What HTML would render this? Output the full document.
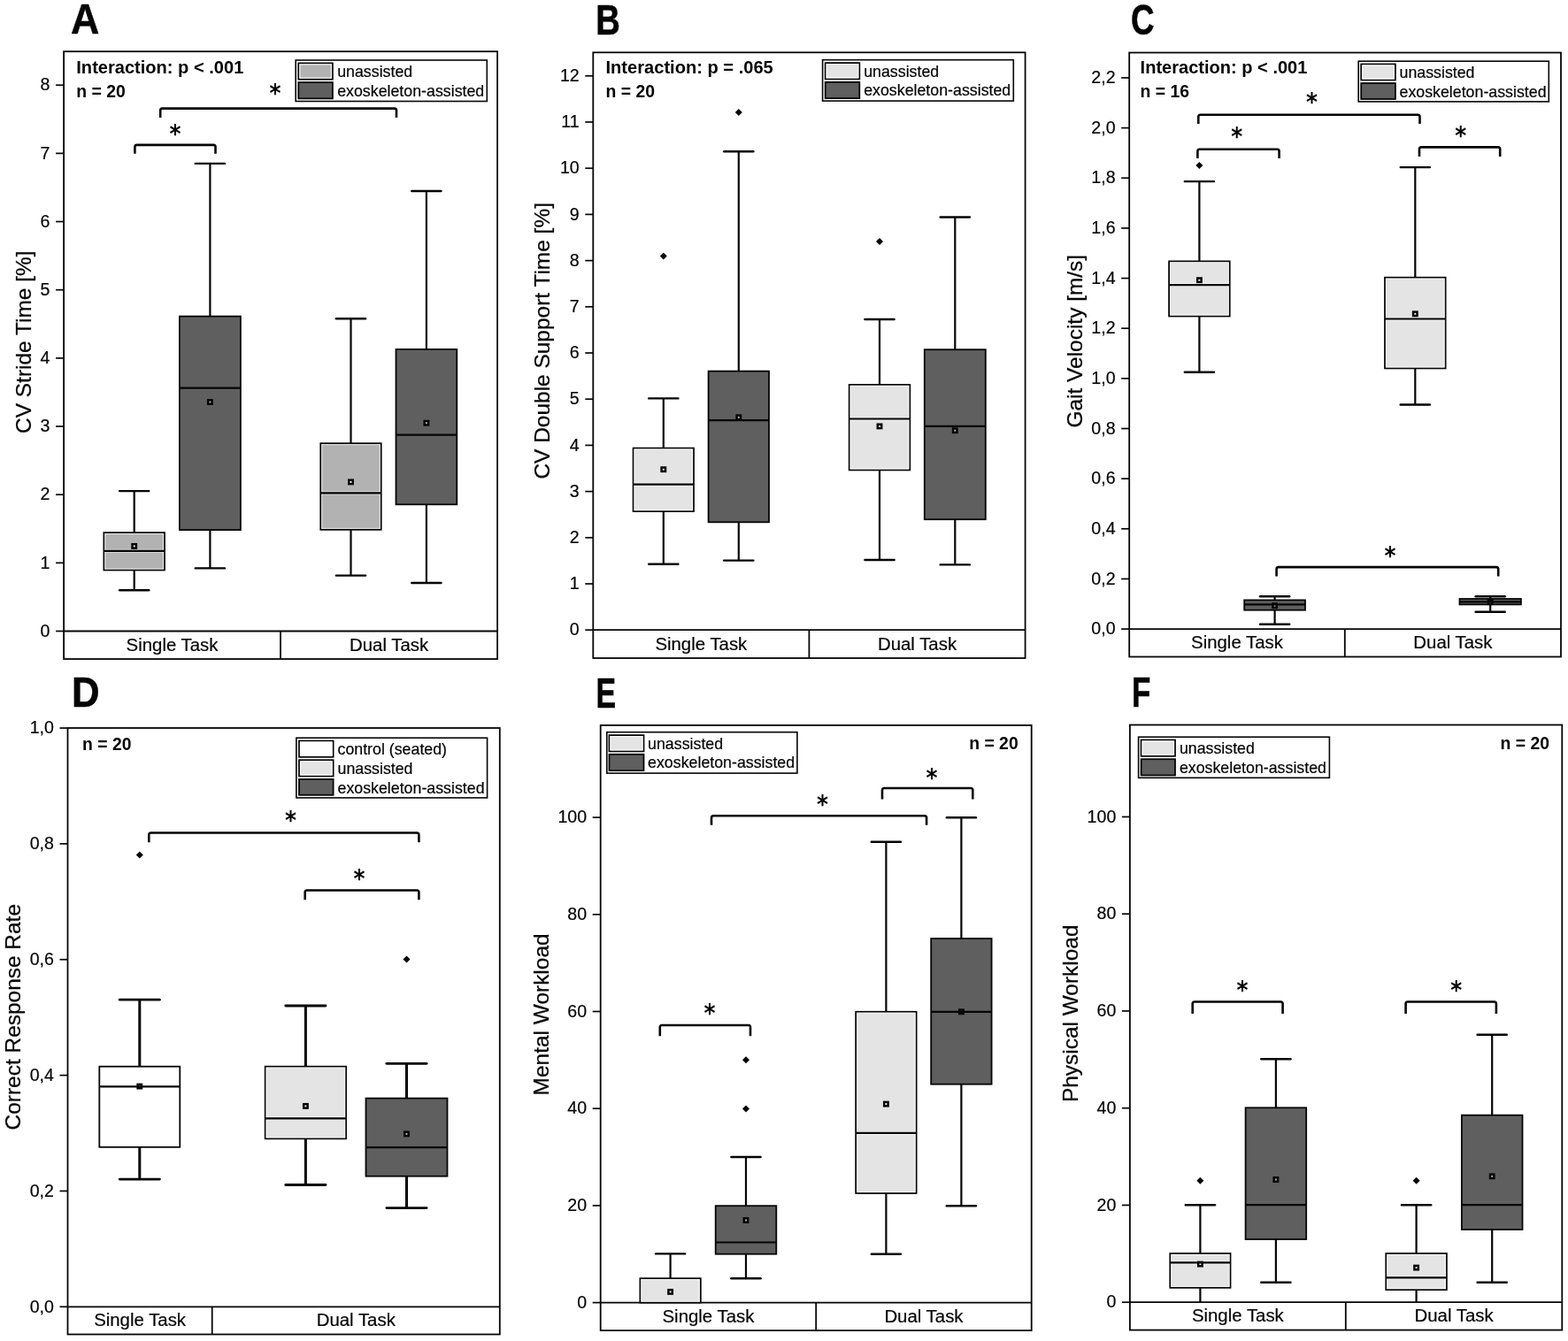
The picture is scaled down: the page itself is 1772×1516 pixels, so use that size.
<!DOCTYPE html>
<html lang="en"><head><meta charset="utf-8"><title>Gait variability, velocity, response rate and workload box plots</title>
<style>html,body{margin:0;padding:0;background:#fff}body{width:1772px;height:1516px;overflow:hidden}svg{display:block}</style>
</head><body>
<svg width="1772" height="1516" viewBox="0 0 1772 1516">
<rect x="0" y="0" width="1772" height="1516" fill="#ffffff"/>
<g id="panelA">
<text transform="translate(79.91 38.3) scale(0.943 1)" font-family="'Liberation Sans', sans-serif" font-size="47.4" font-weight="bold" stroke="#050505" stroke-width="0.5" fill="#050505">A</text>
<rect x="72.1" y="58.2" width="490" height="686.8" fill="#ffffff" stroke="#050505" stroke-width="1.8"/>
<line x1="63.1" y1="713.5" x2="72.1" y2="713.5" stroke="#050505" stroke-width="1.7" stroke-linecap="butt"/>
<line x1="72.1" y1="713.5" x2="562.1" y2="713.5" stroke="#050505" stroke-width="1.8" stroke-linecap="butt"/>
<line x1="317" y1="713.5" x2="317" y2="745" stroke="#050505" stroke-width="1.8" stroke-linecap="butt"/>
<text x="56.5" y="719.7" font-family="'Liberation Sans', sans-serif" font-size="19.6" text-anchor="end" stroke="#050505" stroke-width="0.2" fill="#050505">0</text>
<line x1="63.1" y1="636.34" x2="72.1" y2="636.34" stroke="#050505" stroke-width="1.7" stroke-linecap="butt"/>
<text x="56.5" y="642.54" font-family="'Liberation Sans', sans-serif" font-size="19.6" text-anchor="end" stroke="#050505" stroke-width="0.2" fill="#050505">1</text>
<line x1="63.1" y1="559.18" x2="72.1" y2="559.18" stroke="#050505" stroke-width="1.7" stroke-linecap="butt"/>
<text x="56.5" y="565.38" font-family="'Liberation Sans', sans-serif" font-size="19.6" text-anchor="end" stroke="#050505" stroke-width="0.2" fill="#050505">2</text>
<line x1="63.1" y1="482.02" x2="72.1" y2="482.02" stroke="#050505" stroke-width="1.7" stroke-linecap="butt"/>
<text x="56.5" y="488.22" font-family="'Liberation Sans', sans-serif" font-size="19.6" text-anchor="end" stroke="#050505" stroke-width="0.2" fill="#050505">3</text>
<line x1="63.1" y1="404.86" x2="72.1" y2="404.86" stroke="#050505" stroke-width="1.7" stroke-linecap="butt"/>
<text x="56.5" y="411.06" font-family="'Liberation Sans', sans-serif" font-size="19.6" text-anchor="end" stroke="#050505" stroke-width="0.2" fill="#050505">4</text>
<line x1="63.1" y1="327.7" x2="72.1" y2="327.7" stroke="#050505" stroke-width="1.7" stroke-linecap="butt"/>
<text x="56.5" y="333.9" font-family="'Liberation Sans', sans-serif" font-size="19.6" text-anchor="end" stroke="#050505" stroke-width="0.2" fill="#050505">5</text>
<line x1="63.1" y1="250.54" x2="72.1" y2="250.54" stroke="#050505" stroke-width="1.7" stroke-linecap="butt"/>
<text x="56.5" y="256.74" font-family="'Liberation Sans', sans-serif" font-size="19.6" text-anchor="end" stroke="#050505" stroke-width="0.2" fill="#050505">6</text>
<line x1="63.1" y1="173.38" x2="72.1" y2="173.38" stroke="#050505" stroke-width="1.7" stroke-linecap="butt"/>
<text x="56.5" y="179.58" font-family="'Liberation Sans', sans-serif" font-size="19.6" text-anchor="end" stroke="#050505" stroke-width="0.2" fill="#050505">7</text>
<line x1="63.1" y1="96.22" x2="72.1" y2="96.22" stroke="#050505" stroke-width="1.7" stroke-linecap="butt"/>
<text x="56.5" y="102.42" font-family="'Liberation Sans', sans-serif" font-size="19.6" text-anchor="end" stroke="#050505" stroke-width="0.2" fill="#050505">8</text>
<text transform="translate(194.55 735.75) scale(1.025 1)" font-family="'Liberation Sans', sans-serif" font-size="19.9" text-anchor="middle" stroke="#050505" stroke-width="0.2" fill="#050505">Single Task</text>
<text transform="translate(439.55 735.75) scale(1.025 1)" font-family="'Liberation Sans', sans-serif" font-size="19.9" text-anchor="middle" stroke="#050505" stroke-width="0.2" fill="#050505">Dual Task</text>
<text transform="translate(34.7 386.7) rotate(-90) scale(1.045 1)" font-family="'Liberation Sans', sans-serif" font-size="23.4" text-anchor="middle" stroke="#050505" stroke-width="0.25" fill="#050505">CV Stride Time [%]</text>
<line x1="151.7" y1="555.1" x2="151.7" y2="602.1" stroke="#050505" stroke-width="2.2" stroke-linecap="butt"/>
<line x1="135.1" y1="555.1" x2="168.3" y2="555.1" stroke="#050505" stroke-width="2.4" stroke-linecap="round"/>
<line x1="151.7" y1="644.5" x2="151.7" y2="667.2" stroke="#050505" stroke-width="2.2" stroke-linecap="butt"/>
<line x1="135.1" y1="667.2" x2="168.3" y2="667.2" stroke="#050505" stroke-width="2.4" stroke-linecap="round"/>
<rect x="117.4" y="602.1" width="68.6" height="42.4" fill="#b2b2b2" stroke="#050505" stroke-width="1.8"/>
<rect x="118.8" y="603.5" width="65.8" height="39.6" fill="none" stroke="#ffffff" stroke-opacity="0.75" stroke-width="1"/>
<path d="M118.4 621.2H185M118.4 624.4H185" fill="none" stroke="#ffffff" stroke-opacity="0.6" stroke-width="0.9"/>
<rect x="149.5" y="615.2" width="4.4" height="4.4" fill="#ffffff" stroke="#050505" stroke-width="2.5"/>
<line x1="117.4" y1="622.8" x2="186" y2="622.8" stroke="#050505" stroke-width="2.2" stroke-linecap="butt"/>
<line x1="237.4" y1="184.9" x2="237.4" y2="357.6" stroke="#050505" stroke-width="2.2" stroke-linecap="butt"/>
<line x1="220.8" y1="184.9" x2="254" y2="184.9" stroke="#050505" stroke-width="2.4" stroke-linecap="round"/>
<line x1="237.4" y1="599.1" x2="237.4" y2="642.4" stroke="#050505" stroke-width="2.2" stroke-linecap="butt"/>
<line x1="220.8" y1="642.4" x2="254" y2="642.4" stroke="#050505" stroke-width="2.4" stroke-linecap="round"/>
<rect x="202.9" y="357.6" width="69" height="241.5" fill="#5f5f5f" stroke="#050505" stroke-width="1.8"/>
<rect x="235.2" y="452.3" width="4.4" height="4.4" fill="#b8b8b8" stroke="#050505" stroke-width="2.5"/>
<line x1="202.9" y1="438.6" x2="271.9" y2="438.6" stroke="#050505" stroke-width="2.2" stroke-linecap="butt"/>
<line x1="396.5" y1="360.3" x2="396.5" y2="501.2" stroke="#050505" stroke-width="2.2" stroke-linecap="butt"/>
<line x1="379.9" y1="360.3" x2="413.1" y2="360.3" stroke="#050505" stroke-width="2.4" stroke-linecap="round"/>
<line x1="396.5" y1="598.8" x2="396.5" y2="650.6" stroke="#050505" stroke-width="2.2" stroke-linecap="butt"/>
<line x1="379.9" y1="650.6" x2="413.1" y2="650.6" stroke="#050505" stroke-width="2.4" stroke-linecap="round"/>
<rect x="362.3" y="501.2" width="68.4" height="97.6" fill="#b2b2b2" stroke="#050505" stroke-width="1.8"/>
<rect x="363.7" y="502.6" width="65.6" height="94.8" fill="none" stroke="#ffffff" stroke-opacity="0.75" stroke-width="1"/>
<path d="M363.3 555.8H429.7M363.3 559H429.7" fill="none" stroke="#ffffff" stroke-opacity="0.6" stroke-width="0.9"/>
<rect x="394.3" y="542.7" width="4.4" height="4.4" fill="#ffffff" stroke="#050505" stroke-width="2.5"/>
<line x1="362.3" y1="557.4" x2="430.7" y2="557.4" stroke="#050505" stroke-width="2.2" stroke-linecap="butt"/>
<line x1="481.9" y1="216" x2="481.9" y2="394.9" stroke="#050505" stroke-width="2.2" stroke-linecap="butt"/>
<line x1="465.3" y1="216" x2="498.5" y2="216" stroke="#050505" stroke-width="2.4" stroke-linecap="round"/>
<line x1="481.9" y1="570.3" x2="481.9" y2="659" stroke="#050505" stroke-width="2.2" stroke-linecap="butt"/>
<line x1="465.3" y1="659" x2="498.5" y2="659" stroke="#050505" stroke-width="2.4" stroke-linecap="round"/>
<rect x="447.5" y="394.9" width="68.8" height="175.4" fill="#5f5f5f" stroke="#050505" stroke-width="1.8"/>
<rect x="479.7" y="476" width="4.4" height="4.4" fill="#b8b8b8" stroke="#050505" stroke-width="2.5"/>
<line x1="447.5" y1="491.7" x2="516.3" y2="491.7" stroke="#050505" stroke-width="2.2" stroke-linecap="butt"/>
<path d="M152.4 173.7V166.1Q152.4 163.9 154.6 163.9H241.3Q243.5 163.9 243.5 166.1V173.7" fill="none" stroke="#050505" stroke-width="2.6"/>
<text transform="translate(198 160.5) scale(0.9 1)" font-family="'DejaVu Sans', 'Liberation Sans', sans-serif" font-size="27.6" font-weight="bold" text-anchor="middle" fill="#050505">*</text>
<path d="M181.2 133V124.8Q181.2 122.6 183.4 122.6H445.8Q448 122.6 448 124.8V133" fill="none" stroke="#050505" stroke-width="2.6"/>
<text transform="translate(310.9 114.8) scale(0.9 1)" font-family="'DejaVu Sans', 'Liberation Sans', sans-serif" font-size="27.6" font-weight="bold" text-anchor="middle" fill="#050505">*</text>
<rect x="334.2" y="68" width="216.1" height="46.5" fill="#ffffff" stroke="#050505" stroke-width="1.6"/>
<rect x="337.3" y="71.4" width="38.6" height="18.3" fill="#b2b2b2" stroke="#050505" stroke-width="1.8"/>
<rect x="338.8" y="72.9" width="35.6" height="15.3" fill="none" stroke="#ffffff" stroke-opacity="0.85" stroke-width="1.2"/>
<text x="381.2" y="87" font-family="'Liberation Sans', sans-serif" font-size="17.8" stroke="#050505" stroke-width="0.2" fill="#050505">unassisted</text>
<rect x="337.3" y="93.1" width="38.6" height="18.3" fill="#5f5f5f" stroke="#050505" stroke-width="1.8"/>
<text x="381.2" y="108.7" font-family="'Liberation Sans', sans-serif" font-size="17.8" stroke="#050505" stroke-width="0.2" fill="#050505">exoskeleton-assisted</text>
<text x="86.3" y="83" font-family="'Liberation Sans', sans-serif" font-size="19.5" font-weight="bold" textLength="189" lengthAdjust="spacingAndGlyphs" fill="#050505">Interaction: p &lt; .001</text>
<text x="86.3" y="110" font-family="'Liberation Sans', sans-serif" font-size="19.5" font-weight="bold" textLength="55.5" lengthAdjust="spacingAndGlyphs" fill="#050505">n = 20</text>
</g>
<g id="panelB">
<text transform="translate(673.18 38.8) scale(0.8058 1)" font-family="'Liberation Sans', sans-serif" font-size="47.4" font-weight="bold" stroke="#050505" stroke-width="0.5" fill="#050505">B</text>
<rect x="670.3" y="59.3" width="488.3" height="684.7" fill="#ffffff" stroke="#050505" stroke-width="1.8"/>
<line x1="661.3" y1="712.2" x2="670.3" y2="712.2" stroke="#050505" stroke-width="1.7" stroke-linecap="butt"/>
<line x1="670.3" y1="712.2" x2="1158.6" y2="712.2" stroke="#050505" stroke-width="1.8" stroke-linecap="butt"/>
<line x1="914.4" y1="712.2" x2="914.4" y2="744" stroke="#050505" stroke-width="1.8" stroke-linecap="butt"/>
<text x="654.7" y="718.4" font-family="'Liberation Sans', sans-serif" font-size="19.6" text-anchor="end" stroke="#050505" stroke-width="0.2" fill="#050505">0</text>
<line x1="661.3" y1="660" x2="670.3" y2="660" stroke="#050505" stroke-width="1.7" stroke-linecap="butt"/>
<text x="654.7" y="666.2" font-family="'Liberation Sans', sans-serif" font-size="19.6" text-anchor="end" stroke="#050505" stroke-width="0.2" fill="#050505">1</text>
<line x1="661.3" y1="607.8" x2="670.3" y2="607.8" stroke="#050505" stroke-width="1.7" stroke-linecap="butt"/>
<text x="654.7" y="614" font-family="'Liberation Sans', sans-serif" font-size="19.6" text-anchor="end" stroke="#050505" stroke-width="0.2" fill="#050505">2</text>
<line x1="661.3" y1="555.6" x2="670.3" y2="555.6" stroke="#050505" stroke-width="1.7" stroke-linecap="butt"/>
<text x="654.7" y="561.8" font-family="'Liberation Sans', sans-serif" font-size="19.6" text-anchor="end" stroke="#050505" stroke-width="0.2" fill="#050505">3</text>
<line x1="661.3" y1="503.4" x2="670.3" y2="503.4" stroke="#050505" stroke-width="1.7" stroke-linecap="butt"/>
<text x="654.7" y="509.6" font-family="'Liberation Sans', sans-serif" font-size="19.6" text-anchor="end" stroke="#050505" stroke-width="0.2" fill="#050505">4</text>
<line x1="661.3" y1="451.2" x2="670.3" y2="451.2" stroke="#050505" stroke-width="1.7" stroke-linecap="butt"/>
<text x="654.7" y="457.4" font-family="'Liberation Sans', sans-serif" font-size="19.6" text-anchor="end" stroke="#050505" stroke-width="0.2" fill="#050505">5</text>
<line x1="661.3" y1="399" x2="670.3" y2="399" stroke="#050505" stroke-width="1.7" stroke-linecap="butt"/>
<text x="654.7" y="405.2" font-family="'Liberation Sans', sans-serif" font-size="19.6" text-anchor="end" stroke="#050505" stroke-width="0.2" fill="#050505">6</text>
<line x1="661.3" y1="346.8" x2="670.3" y2="346.8" stroke="#050505" stroke-width="1.7" stroke-linecap="butt"/>
<text x="654.7" y="353" font-family="'Liberation Sans', sans-serif" font-size="19.6" text-anchor="end" stroke="#050505" stroke-width="0.2" fill="#050505">7</text>
<line x1="661.3" y1="294.6" x2="670.3" y2="294.6" stroke="#050505" stroke-width="1.7" stroke-linecap="butt"/>
<text x="654.7" y="300.8" font-family="'Liberation Sans', sans-serif" font-size="19.6" text-anchor="end" stroke="#050505" stroke-width="0.2" fill="#050505">8</text>
<line x1="661.3" y1="242.4" x2="670.3" y2="242.4" stroke="#050505" stroke-width="1.7" stroke-linecap="butt"/>
<text x="654.7" y="248.6" font-family="'Liberation Sans', sans-serif" font-size="19.6" text-anchor="end" stroke="#050505" stroke-width="0.2" fill="#050505">9</text>
<line x1="661.3" y1="190.2" x2="670.3" y2="190.2" stroke="#050505" stroke-width="1.7" stroke-linecap="butt"/>
<text x="654.7" y="196.4" font-family="'Liberation Sans', sans-serif" font-size="19.6" text-anchor="end" stroke="#050505" stroke-width="0.2" fill="#050505">10</text>
<line x1="661.3" y1="138" x2="670.3" y2="138" stroke="#050505" stroke-width="1.7" stroke-linecap="butt"/>
<text x="654.7" y="144.2" font-family="'Liberation Sans', sans-serif" font-size="19.6" text-anchor="end" stroke="#050505" stroke-width="0.2" fill="#050505">11</text>
<line x1="661.3" y1="85.8" x2="670.3" y2="85.8" stroke="#050505" stroke-width="1.7" stroke-linecap="butt"/>
<text x="654.7" y="92" font-family="'Liberation Sans', sans-serif" font-size="19.6" text-anchor="end" stroke="#050505" stroke-width="0.2" fill="#050505">12</text>
<text transform="translate(792.35 734.6) scale(1.025 1)" font-family="'Liberation Sans', sans-serif" font-size="19.9" text-anchor="middle" stroke="#050505" stroke-width="0.2" fill="#050505">Single Task</text>
<text transform="translate(1036.5 734.6) scale(1.025 1)" font-family="'Liberation Sans', sans-serif" font-size="19.9" text-anchor="middle" stroke="#050505" stroke-width="0.2" fill="#050505">Dual Task</text>
<text transform="translate(621.4 385.3) rotate(-90) scale(1.045 1)" font-family="'Liberation Sans', sans-serif" font-size="23.4" text-anchor="middle" stroke="#050505" stroke-width="0.25" fill="#050505">CV Double Support Time [%]</text>
<line x1="749.8" y1="450.4" x2="749.8" y2="506.6" stroke="#050505" stroke-width="2.2" stroke-linecap="butt"/>
<line x1="733.2" y1="450.4" x2="766.4" y2="450.4" stroke="#050505" stroke-width="2.4" stroke-linecap="round"/>
<line x1="749.8" y1="578.1" x2="749.8" y2="637.7" stroke="#050505" stroke-width="2.2" stroke-linecap="butt"/>
<line x1="733.2" y1="637.7" x2="766.4" y2="637.7" stroke="#050505" stroke-width="2.4" stroke-linecap="round"/>
<rect x="715.6" y="506.6" width="68.4" height="71.5" fill="#e4e4e4" stroke="#050505" stroke-width="1.8"/>
<rect x="717" y="508" width="65.6" height="68.7" fill="none" stroke="#ffffff" stroke-opacity="0.75" stroke-width="1"/>
<path d="M716.6 546H783M716.6 549.2H783" fill="none" stroke="#ffffff" stroke-opacity="0.6" stroke-width="0.9"/>
<rect x="747.6" y="528.5" width="4.4" height="4.4" fill="#ffffff" stroke="#050505" stroke-width="2.5"/>
<line x1="715.6" y1="547.6" x2="784" y2="547.6" stroke="#050505" stroke-width="2.2" stroke-linecap="butt"/>
<path d="M745.8 289.5L749.8 285.5L753.8 289.5L749.8 293.5Z" fill="#050505"/>
<line x1="834.8" y1="171.3" x2="834.8" y2="419.6" stroke="#050505" stroke-width="2.2" stroke-linecap="butt"/>
<line x1="818.2" y1="171.3" x2="851.4" y2="171.3" stroke="#050505" stroke-width="2.4" stroke-linecap="round"/>
<line x1="834.8" y1="590.3" x2="834.8" y2="633.6" stroke="#050505" stroke-width="2.2" stroke-linecap="butt"/>
<line x1="818.2" y1="633.6" x2="851.4" y2="633.6" stroke="#050505" stroke-width="2.4" stroke-linecap="round"/>
<rect x="800.6" y="419.6" width="68.4" height="170.7" fill="#5f5f5f" stroke="#050505" stroke-width="1.8"/>
<rect x="832.6" y="469.6" width="4.4" height="4.4" fill="#b8b8b8" stroke="#050505" stroke-width="2.5"/>
<line x1="800.6" y1="475.2" x2="869" y2="475.2" stroke="#050505" stroke-width="2.2" stroke-linecap="butt"/>
<path d="M830.8 127L834.8 123L838.8 127L834.8 131Z" fill="#050505"/>
<line x1="994" y1="361" x2="994" y2="434.9" stroke="#050505" stroke-width="2.2" stroke-linecap="butt"/>
<line x1="977.4" y1="361" x2="1010.6" y2="361" stroke="#050505" stroke-width="2.4" stroke-linecap="round"/>
<line x1="994" y1="531.4" x2="994" y2="633" stroke="#050505" stroke-width="2.2" stroke-linecap="butt"/>
<line x1="977.4" y1="633" x2="1010.6" y2="633" stroke="#050505" stroke-width="2.4" stroke-linecap="round"/>
<rect x="959.7" y="434.9" width="68.6" height="96.5" fill="#e4e4e4" stroke="#050505" stroke-width="1.8"/>
<rect x="961.1" y="436.3" width="65.8" height="93.7" fill="none" stroke="#ffffff" stroke-opacity="0.75" stroke-width="1"/>
<path d="M960.7 471.9H1027.3M960.7 475.1H1027.3" fill="none" stroke="#ffffff" stroke-opacity="0.6" stroke-width="0.9"/>
<rect x="991.8" y="479.7" width="4.4" height="4.4" fill="#ffffff" stroke="#050505" stroke-width="2.5"/>
<line x1="959.7" y1="473.5" x2="1028.3" y2="473.5" stroke="#050505" stroke-width="2.2" stroke-linecap="butt"/>
<path d="M990 272.9L994 268.9L998 272.9L994 276.9Z" fill="#050505"/>
<line x1="1079.3" y1="245.5" x2="1079.3" y2="395.2" stroke="#050505" stroke-width="2.2" stroke-linecap="butt"/>
<line x1="1062.7" y1="245.5" x2="1095.9" y2="245.5" stroke="#050505" stroke-width="2.4" stroke-linecap="round"/>
<line x1="1079.3" y1="587.2" x2="1079.3" y2="638.4" stroke="#050505" stroke-width="2.2" stroke-linecap="butt"/>
<line x1="1062.7" y1="638.4" x2="1095.9" y2="638.4" stroke="#050505" stroke-width="2.4" stroke-linecap="round"/>
<rect x="1044.8" y="395.2" width="69" height="192" fill="#5f5f5f" stroke="#050505" stroke-width="1.8"/>
<rect x="1077.1" y="484.5" width="4.4" height="4.4" fill="#b8b8b8" stroke="#050505" stroke-width="2.5"/>
<line x1="1044.8" y1="481.9" x2="1113.8" y2="481.9" stroke="#050505" stroke-width="2.2" stroke-linecap="butt"/>
<rect x="929.6" y="67.7" width="215.7" height="46.4" fill="#ffffff" stroke="#050505" stroke-width="1.6"/>
<rect x="932.7" y="71.1" width="38.6" height="18.3" fill="#e4e4e4" stroke="#050505" stroke-width="1.8"/>
<rect x="934.2" y="72.6" width="35.6" height="15.3" fill="none" stroke="#ffffff" stroke-opacity="0.85" stroke-width="1.2"/>
<text x="976.2" y="86.7" font-family="'Liberation Sans', sans-serif" font-size="17.8" stroke="#050505" stroke-width="0.2" fill="#050505">unassisted</text>
<rect x="932.7" y="92.8" width="38.6" height="18.3" fill="#5f5f5f" stroke="#050505" stroke-width="1.8"/>
<text x="976.2" y="108.4" font-family="'Liberation Sans', sans-serif" font-size="17.8" stroke="#050505" stroke-width="0.2" fill="#050505">exoskeleton-assisted</text>
<text x="684.5" y="83" font-family="'Liberation Sans', sans-serif" font-size="19.5" font-weight="bold" textLength="189.3" lengthAdjust="spacingAndGlyphs" fill="#050505">Interaction: p = .065</text>
<text x="684.5" y="110" font-family="'Liberation Sans', sans-serif" font-size="19.5" font-weight="bold" textLength="55.5" lengthAdjust="spacingAndGlyphs" fill="#050505">n = 20</text>
</g>
<g id="panelC">
<text transform="translate(1278.08 38.7) scale(0.7757 1)" font-family="'Liberation Sans', sans-serif" font-size="47.4" font-weight="bold" stroke="#050505" stroke-width="0.5" fill="#050505">C</text>
<rect x="1276.2" y="59.5" width="487.8" height="683" fill="#ffffff" stroke="#050505" stroke-width="1.8"/>
<line x1="1267.2" y1="711.1" x2="1276.2" y2="711.1" stroke="#050505" stroke-width="1.7" stroke-linecap="butt"/>
<line x1="1276.2" y1="711.1" x2="1764" y2="711.1" stroke="#050505" stroke-width="1.8" stroke-linecap="butt"/>
<line x1="1519.8" y1="711.1" x2="1519.8" y2="742.5" stroke="#050505" stroke-width="1.8" stroke-linecap="butt"/>
<text x="1260.6" y="717.3" font-family="'Liberation Sans', sans-serif" font-size="19.6" text-anchor="end" stroke="#050505" stroke-width="0.2" fill="#050505">0,0</text>
<line x1="1267.2" y1="654.45" x2="1276.2" y2="654.45" stroke="#050505" stroke-width="1.7" stroke-linecap="butt"/>
<text x="1260.6" y="660.65" font-family="'Liberation Sans', sans-serif" font-size="19.6" text-anchor="end" stroke="#050505" stroke-width="0.2" fill="#050505">0,2</text>
<line x1="1267.2" y1="597.8" x2="1276.2" y2="597.8" stroke="#050505" stroke-width="1.7" stroke-linecap="butt"/>
<text x="1260.6" y="604" font-family="'Liberation Sans', sans-serif" font-size="19.6" text-anchor="end" stroke="#050505" stroke-width="0.2" fill="#050505">0,4</text>
<line x1="1267.2" y1="541.15" x2="1276.2" y2="541.15" stroke="#050505" stroke-width="1.7" stroke-linecap="butt"/>
<text x="1260.6" y="547.35" font-family="'Liberation Sans', sans-serif" font-size="19.6" text-anchor="end" stroke="#050505" stroke-width="0.2" fill="#050505">0,6</text>
<line x1="1267.2" y1="484.5" x2="1276.2" y2="484.5" stroke="#050505" stroke-width="1.7" stroke-linecap="butt"/>
<text x="1260.6" y="490.7" font-family="'Liberation Sans', sans-serif" font-size="19.6" text-anchor="end" stroke="#050505" stroke-width="0.2" fill="#050505">0,8</text>
<line x1="1267.2" y1="427.85" x2="1276.2" y2="427.85" stroke="#050505" stroke-width="1.7" stroke-linecap="butt"/>
<text x="1260.6" y="434.05" font-family="'Liberation Sans', sans-serif" font-size="19.6" text-anchor="end" stroke="#050505" stroke-width="0.2" fill="#050505">1,0</text>
<line x1="1267.2" y1="371.2" x2="1276.2" y2="371.2" stroke="#050505" stroke-width="1.7" stroke-linecap="butt"/>
<text x="1260.6" y="377.4" font-family="'Liberation Sans', sans-serif" font-size="19.6" text-anchor="end" stroke="#050505" stroke-width="0.2" fill="#050505">1,2</text>
<line x1="1267.2" y1="314.55" x2="1276.2" y2="314.55" stroke="#050505" stroke-width="1.7" stroke-linecap="butt"/>
<text x="1260.6" y="320.75" font-family="'Liberation Sans', sans-serif" font-size="19.6" text-anchor="end" stroke="#050505" stroke-width="0.2" fill="#050505">1,4</text>
<line x1="1267.2" y1="257.9" x2="1276.2" y2="257.9" stroke="#050505" stroke-width="1.7" stroke-linecap="butt"/>
<text x="1260.6" y="264.1" font-family="'Liberation Sans', sans-serif" font-size="19.6" text-anchor="end" stroke="#050505" stroke-width="0.2" fill="#050505">1,6</text>
<line x1="1267.2" y1="201.25" x2="1276.2" y2="201.25" stroke="#050505" stroke-width="1.7" stroke-linecap="butt"/>
<text x="1260.6" y="207.45" font-family="'Liberation Sans', sans-serif" font-size="19.6" text-anchor="end" stroke="#050505" stroke-width="0.2" fill="#050505">1,8</text>
<line x1="1267.2" y1="144.6" x2="1276.2" y2="144.6" stroke="#050505" stroke-width="1.7" stroke-linecap="butt"/>
<text x="1260.6" y="150.8" font-family="'Liberation Sans', sans-serif" font-size="19.6" text-anchor="end" stroke="#050505" stroke-width="0.2" fill="#050505">2,0</text>
<line x1="1267.2" y1="87.95" x2="1276.2" y2="87.95" stroke="#050505" stroke-width="1.7" stroke-linecap="butt"/>
<text x="1260.6" y="94.15" font-family="'Liberation Sans', sans-serif" font-size="19.6" text-anchor="end" stroke="#050505" stroke-width="0.2" fill="#050505">2,2</text>
<text transform="translate(1398 733.3) scale(1.025 1)" font-family="'Liberation Sans', sans-serif" font-size="19.9" text-anchor="middle" stroke="#050505" stroke-width="0.2" fill="#050505">Single Task</text>
<text transform="translate(1641.9 733.3) scale(1.025 1)" font-family="'Liberation Sans', sans-serif" font-size="19.9" text-anchor="middle" stroke="#050505" stroke-width="0.2" fill="#050505">Dual Task</text>
<text transform="translate(1222.7 385.7) rotate(-90) scale(1.045 1)" font-family="'Liberation Sans', sans-serif" font-size="23.4" text-anchor="middle" stroke="#050505" stroke-width="0.25" fill="#050505">Gait Velocity [m/s]</text>
<line x1="1355.4" y1="205.1" x2="1355.4" y2="295.4" stroke="#050505" stroke-width="2.2" stroke-linecap="butt"/>
<line x1="1338.8" y1="205.1" x2="1372" y2="205.1" stroke="#050505" stroke-width="2.4" stroke-linecap="round"/>
<line x1="1355.4" y1="357.5" x2="1355.4" y2="420.8" stroke="#050505" stroke-width="2.2" stroke-linecap="butt"/>
<line x1="1338.8" y1="420.8" x2="1372" y2="420.8" stroke="#050505" stroke-width="2.4" stroke-linecap="round"/>
<rect x="1321.1" y="295.4" width="68.6" height="62.1" fill="#e4e4e4" stroke="#050505" stroke-width="1.8"/>
<rect x="1322.5" y="296.8" width="65.8" height="59.3" fill="none" stroke="#ffffff" stroke-opacity="0.75" stroke-width="1"/>
<path d="M1322.1 320.5H1388.7M1322.1 323.7H1388.7" fill="none" stroke="#ffffff" stroke-opacity="0.6" stroke-width="0.9"/>
<rect x="1353.2" y="314.5" width="4.4" height="4.4" fill="#ffffff" stroke="#050505" stroke-width="2.5"/>
<line x1="1321.1" y1="322.1" x2="1389.7" y2="322.1" stroke="#050505" stroke-width="2.2" stroke-linecap="butt"/>
<path d="M1351.4 187.1L1355.4 183.1L1359.4 187.1L1355.4 191.1Z" fill="#050505"/>
<line x1="1440.6" y1="674.3" x2="1440.6" y2="678.4" stroke="#050505" stroke-width="2.2" stroke-linecap="butt"/>
<line x1="1424" y1="674.3" x2="1457.2" y2="674.3" stroke="#050505" stroke-width="2.4" stroke-linecap="round"/>
<line x1="1440.6" y1="689.7" x2="1440.6" y2="705.8" stroke="#050505" stroke-width="2.2" stroke-linecap="butt"/>
<line x1="1424" y1="705.8" x2="1457.2" y2="705.8" stroke="#050505" stroke-width="2.4" stroke-linecap="round"/>
<rect x="1406.2" y="678.4" width="68.8" height="11.3" fill="#5f5f5f" stroke="#050505" stroke-width="1.8"/>
<rect x="1438.4" y="682.5" width="4.4" height="4.4" fill="#b8b8b8" stroke="#050505" stroke-width="2.5"/>
<line x1="1406.2" y1="683.4" x2="1475" y2="683.4" stroke="#050505" stroke-width="2.2" stroke-linecap="butt"/>
<line x1="1599.3" y1="189.1" x2="1599.3" y2="313.7" stroke="#050505" stroke-width="2.2" stroke-linecap="butt"/>
<line x1="1582.7" y1="189.1" x2="1615.9" y2="189.1" stroke="#050505" stroke-width="2.4" stroke-linecap="round"/>
<line x1="1599.3" y1="416.4" x2="1599.3" y2="457.5" stroke="#050505" stroke-width="2.2" stroke-linecap="butt"/>
<line x1="1582.7" y1="457.5" x2="1615.9" y2="457.5" stroke="#050505" stroke-width="2.4" stroke-linecap="round"/>
<rect x="1565" y="313.7" width="68.6" height="102.7" fill="#e4e4e4" stroke="#050505" stroke-width="1.8"/>
<rect x="1566.4" y="315.1" width="65.8" height="99.9" fill="none" stroke="#ffffff" stroke-opacity="0.75" stroke-width="1"/>
<path d="M1566 358.9H1632.6M1566 362.1H1632.6" fill="none" stroke="#ffffff" stroke-opacity="0.6" stroke-width="0.9"/>
<rect x="1597.1" y="352.6" width="4.4" height="4.4" fill="#ffffff" stroke="#050505" stroke-width="2.5"/>
<line x1="1565" y1="360.5" x2="1633.6" y2="360.5" stroke="#050505" stroke-width="2.2" stroke-linecap="butt"/>
<line x1="1684.2" y1="674.3" x2="1684.2" y2="677" stroke="#050505" stroke-width="2.2" stroke-linecap="butt"/>
<line x1="1667.6" y1="674.3" x2="1700.8" y2="674.3" stroke="#050505" stroke-width="2.4" stroke-linecap="round"/>
<line x1="1684.2" y1="683.4" x2="1684.2" y2="691.7" stroke="#050505" stroke-width="2.2" stroke-linecap="butt"/>
<line x1="1667.6" y1="691.7" x2="1700.8" y2="691.7" stroke="#050505" stroke-width="2.4" stroke-linecap="round"/>
<rect x="1649.5" y="677" width="69.4" height="6.4" fill="#5f5f5f" stroke="#050505" stroke-width="1.8"/>
<rect x="1682" y="678.5" width="4.4" height="4.4" fill="#b8b8b8" stroke="#050505" stroke-width="2.5"/>
<line x1="1649.5" y1="680.4" x2="1718.9" y2="680.4" stroke="#050505" stroke-width="2.2" stroke-linecap="butt"/>
<path d="M1354.3 140V131.9Q1354.3 129.7 1356.5 129.7H1602.3Q1604.5 129.7 1604.5 131.9V140" fill="none" stroke="#050505" stroke-width="2.6"/>
<text transform="translate(1482.4 124.7) scale(0.9 1)" font-family="'DejaVu Sans', 'Liberation Sans', sans-serif" font-size="27.6" font-weight="bold" text-anchor="middle" fill="#050505">*</text>
<path d="M1353.4 179V170.9Q1353.4 168.7 1355.6 168.7H1443.4Q1445.6 168.7 1445.6 170.9V179" fill="none" stroke="#050505" stroke-width="2.6"/>
<text transform="translate(1397.8 164.2) scale(0.9 1)" font-family="'DejaVu Sans', 'Liberation Sans', sans-serif" font-size="27.6" font-weight="bold" text-anchor="middle" fill="#050505">*</text>
<path d="M1604 177V168.6Q1604 166.4 1606.2 166.4H1693Q1695.2 166.4 1695.2 168.6V177" fill="none" stroke="#050505" stroke-width="2.6"/>
<text transform="translate(1650.8 163.2) scale(0.9 1)" font-family="'DejaVu Sans', 'Liberation Sans', sans-serif" font-size="27.6" font-weight="bold" text-anchor="middle" fill="#050505">*</text>
<path d="M1442.6 651.6V643.3Q1442.6 641.1 1444.8 641.1H1691Q1693.2 641.1 1693.2 643.3V651.6" fill="none" stroke="#050505" stroke-width="2.6"/>
<text transform="translate(1571.1 637.9) scale(0.9 1)" font-family="'DejaVu Sans', 'Liberation Sans', sans-serif" font-size="27.6" font-weight="bold" text-anchor="middle" fill="#050505">*</text>
<rect x="1535.2" y="69.2" width="215.1" height="45.7" fill="#ffffff" stroke="#050505" stroke-width="1.6"/>
<rect x="1538.2" y="72.5" width="38.7" height="18" fill="#e4e4e4" stroke="#050505" stroke-width="1.8"/>
<rect x="1539.7" y="74" width="35.7" height="15" fill="none" stroke="#ffffff" stroke-opacity="0.85" stroke-width="1.2"/>
<text x="1581.5" y="87.9" font-family="'Liberation Sans', sans-serif" font-size="17.8" stroke="#050505" stroke-width="0.2" fill="#050505">unassisted</text>
<rect x="1538.2" y="94" width="38.7" height="18" fill="#5f5f5f" stroke="#050505" stroke-width="1.8"/>
<text x="1581.5" y="109.6" font-family="'Liberation Sans', sans-serif" font-size="17.8" stroke="#050505" stroke-width="0.2" fill="#050505">exoskeleton-assisted</text>
<text x="1288.6" y="83.2" font-family="'Liberation Sans', sans-serif" font-size="19.5" font-weight="bold" textLength="188.8" lengthAdjust="spacingAndGlyphs" fill="#050505">Interaction: p &lt; .001</text>
<text x="1288.6" y="110.3" font-family="'Liberation Sans', sans-serif" font-size="19.5" font-weight="bold" textLength="55.5" lengthAdjust="spacingAndGlyphs" fill="#050505">n = 16</text>
</g>
<g id="panelD">
<text transform="translate(80.99 798.8) scale(0.9234 1)" font-family="'Liberation Sans', sans-serif" font-size="47.4" font-weight="bold" stroke="#050505" stroke-width="0.5" fill="#050505">D</text>
<rect x="76.5" y="823" width="488.3" height="685.5" fill="#ffffff" stroke="#050505" stroke-width="1.8"/>
<line x1="67.5" y1="1477.3" x2="76.5" y2="1477.3" stroke="#050505" stroke-width="1.7" stroke-linecap="butt"/>
<line x1="76.5" y1="1477.3" x2="564.8" y2="1477.3" stroke="#050505" stroke-width="1.8" stroke-linecap="butt"/>
<line x1="239.7" y1="1477.3" x2="239.7" y2="1508.5" stroke="#050505" stroke-width="1.8" stroke-linecap="butt"/>
<text x="60.9" y="1483.5" font-family="'Liberation Sans', sans-serif" font-size="19.6" text-anchor="end" stroke="#050505" stroke-width="0.2" fill="#050505">0,0</text>
<line x1="67.5" y1="1346.45" x2="76.5" y2="1346.45" stroke="#050505" stroke-width="1.7" stroke-linecap="butt"/>
<text x="60.9" y="1352.65" font-family="'Liberation Sans', sans-serif" font-size="19.6" text-anchor="end" stroke="#050505" stroke-width="0.2" fill="#050505">0,2</text>
<line x1="67.5" y1="1215.6" x2="76.5" y2="1215.6" stroke="#050505" stroke-width="1.7" stroke-linecap="butt"/>
<text x="60.9" y="1221.8" font-family="'Liberation Sans', sans-serif" font-size="19.6" text-anchor="end" stroke="#050505" stroke-width="0.2" fill="#050505">0,4</text>
<line x1="67.5" y1="1084.75" x2="76.5" y2="1084.75" stroke="#050505" stroke-width="1.7" stroke-linecap="butt"/>
<text x="60.9" y="1090.95" font-family="'Liberation Sans', sans-serif" font-size="19.6" text-anchor="end" stroke="#050505" stroke-width="0.2" fill="#050505">0,6</text>
<line x1="67.5" y1="953.9" x2="76.5" y2="953.9" stroke="#050505" stroke-width="1.7" stroke-linecap="butt"/>
<text x="60.9" y="960.1" font-family="'Liberation Sans', sans-serif" font-size="19.6" text-anchor="end" stroke="#050505" stroke-width="0.2" fill="#050505">0,8</text>
<line x1="67.5" y1="823.05" x2="76.5" y2="823.05" stroke="#050505" stroke-width="1.7" stroke-linecap="butt"/>
<text x="60.9" y="829.25" font-family="'Liberation Sans', sans-serif" font-size="19.6" text-anchor="end" stroke="#050505" stroke-width="0.2" fill="#050505">1,0</text>
<text transform="translate(158.1 1499.4) scale(1.025 1)" font-family="'Liberation Sans', sans-serif" font-size="19.9" text-anchor="middle" stroke="#050505" stroke-width="0.2" fill="#050505">Single Task</text>
<text transform="translate(402.25 1499.4) scale(1.025 1)" font-family="'Liberation Sans', sans-serif" font-size="19.9" text-anchor="middle" stroke="#050505" stroke-width="0.2" fill="#050505">Dual Task</text>
<text transform="translate(23 1149.7) rotate(-90) scale(1.045 1)" font-family="'Liberation Sans', sans-serif" font-size="23.4" text-anchor="middle" stroke="#050505" stroke-width="0.25" fill="#050505">Correct Response Rate</text>
<line x1="157.8" y1="1130.2" x2="157.8" y2="1205.7" stroke="#050505" stroke-width="3" stroke-linecap="butt"/>
<line x1="135.2" y1="1130.2" x2="180.4" y2="1130.2" stroke="#050505" stroke-width="2.8" stroke-linecap="round"/>
<line x1="157.8" y1="1296.8" x2="157.8" y2="1333.1" stroke="#050505" stroke-width="3" stroke-linecap="butt"/>
<line x1="135.2" y1="1333.1" x2="180.4" y2="1333.1" stroke="#050505" stroke-width="2.8" stroke-linecap="round"/>
<rect x="112.3" y="1205.7" width="91" height="91.1" fill="#ffffff" stroke="#050505" stroke-width="1.8"/>
<rect x="155.6" y="1225.9" width="4.4" height="4.4" fill="#ffffff" stroke="#050505" stroke-width="2.5"/>
<line x1="112.3" y1="1228.4" x2="203.3" y2="1228.4" stroke="#050505" stroke-width="2.2" stroke-linecap="butt"/>
<path d="M153.8 966.6L157.8 962.6L161.8 966.6L157.8 970.6Z" fill="#050505"/>
<line x1="345.4" y1="1137" x2="345.4" y2="1205.7" stroke="#050505" stroke-width="3" stroke-linecap="butt"/>
<line x1="322.8" y1="1137" x2="368" y2="1137" stroke="#050505" stroke-width="2.8" stroke-linecap="round"/>
<line x1="345.4" y1="1287.3" x2="345.4" y2="1339.5" stroke="#050505" stroke-width="3" stroke-linecap="butt"/>
<line x1="322.8" y1="1339.5" x2="368" y2="1339.5" stroke="#050505" stroke-width="2.8" stroke-linecap="round"/>
<rect x="299.7" y="1205.7" width="91.4" height="81.6" fill="#e4e4e4" stroke="#050505" stroke-width="1.8"/>
<rect x="301.1" y="1207.1" width="88.6" height="78.8" fill="none" stroke="#ffffff" stroke-opacity="0.75" stroke-width="1"/>
<path d="M300.7 1262.7H390.1M300.7 1265.9H390.1" fill="none" stroke="#ffffff" stroke-opacity="0.6" stroke-width="0.9"/>
<rect x="343.2" y="1248.2" width="4.4" height="4.4" fill="#ffffff" stroke="#050505" stroke-width="2.5"/>
<line x1="299.7" y1="1264.3" x2="391.1" y2="1264.3" stroke="#050505" stroke-width="2.2" stroke-linecap="butt"/>
<line x1="459.5" y1="1202.3" x2="459.5" y2="1241.6" stroke="#050505" stroke-width="3" stroke-linecap="butt"/>
<line x1="436.9" y1="1202.3" x2="482.1" y2="1202.3" stroke="#050505" stroke-width="2.8" stroke-linecap="round"/>
<line x1="459.5" y1="1329.7" x2="459.5" y2="1365.6" stroke="#050505" stroke-width="3" stroke-linecap="butt"/>
<line x1="436.9" y1="1365.6" x2="482.1" y2="1365.6" stroke="#050505" stroke-width="2.8" stroke-linecap="round"/>
<rect x="413.5" y="1241.6" width="92" height="88.1" fill="#5f5f5f" stroke="#050505" stroke-width="1.8"/>
<rect x="457.3" y="1279.7" width="4.4" height="4.4" fill="#b8b8b8" stroke="#050505" stroke-width="2.5"/>
<line x1="413.5" y1="1297.2" x2="505.5" y2="1297.2" stroke="#050505" stroke-width="2.2" stroke-linecap="butt"/>
<path d="M455.5 1084.4L459.5 1080.4L463.5 1084.4L459.5 1088.4Z" fill="#050505"/>
<path d="M168.3 952.3V943.7Q168.3 941.5 170.5 941.5H471.2Q473.4 941.5 473.4 943.7V952.3" fill="none" stroke="#050505" stroke-width="2.6"/>
<text transform="translate(328.5 936.7) scale(0.9 1)" font-family="'DejaVu Sans', 'Liberation Sans', sans-serif" font-size="27.6" font-weight="bold" text-anchor="middle" fill="#050505">*</text>
<path d="M344.7 1017.3V1008.7Q344.7 1006.5 346.9 1006.5H471.2Q473.4 1006.5 473.4 1008.7V1017.3" fill="none" stroke="#050505" stroke-width="2.6"/>
<text transform="translate(406 1002.8) scale(0.9 1)" font-family="'DejaVu Sans', 'Liberation Sans', sans-serif" font-size="27.6" font-weight="bold" text-anchor="middle" fill="#050505">*</text>
<rect x="334.9" y="834.2" width="215.7" height="67.7" fill="#ffffff" stroke="#050505" stroke-width="1.6"/>
<rect x="338" y="837.5" width="38.6" height="18.3" fill="#ffffff" stroke="#050505" stroke-width="1.8"/>
<rect x="339.5" y="839" width="35.6" height="15.3" fill="none" stroke="#ffffff" stroke-opacity="0.85" stroke-width="1.2"/>
<text x="381.5" y="853.1" font-family="'Liberation Sans', sans-serif" font-size="17.8" stroke="#050505" stroke-width="0.2" fill="#050505">control (seated)</text>
<rect x="338" y="859.2" width="38.6" height="18.3" fill="#e4e4e4" stroke="#050505" stroke-width="1.8"/>
<rect x="339.5" y="860.7" width="35.6" height="15.3" fill="none" stroke="#ffffff" stroke-opacity="0.85" stroke-width="1.2"/>
<text x="381.5" y="874.8" font-family="'Liberation Sans', sans-serif" font-size="17.8" stroke="#050505" stroke-width="0.2" fill="#050505">unassisted</text>
<rect x="338" y="880.9" width="38.6" height="17.9" fill="#5f5f5f" stroke="#050505" stroke-width="1.8"/>
<text x="381.5" y="896.5" font-family="'Liberation Sans', sans-serif" font-size="17.8" stroke="#050505" stroke-width="0.2" fill="#050505">exoskeleton-assisted</text>
<text x="93.1" y="848" font-family="'Liberation Sans', sans-serif" font-size="19.5" font-weight="bold" textLength="55.5" lengthAdjust="spacingAndGlyphs" fill="#050505">n = 20</text>
</g>
<g id="panelE">
<text transform="translate(673.58 799.9) scale(0.7158 1)" font-family="'Liberation Sans', sans-serif" font-size="47.4" font-weight="bold" stroke="#050505" stroke-width="0.5" fill="#050505">E</text>
<rect x="678.7" y="819.9" width="487" height="684.2" fill="#ffffff" stroke="#050505" stroke-width="1.8"/>
<line x1="669.7" y1="1472.6" x2="678.7" y2="1472.6" stroke="#050505" stroke-width="1.7" stroke-linecap="butt"/>
<line x1="678.7" y1="1472.6" x2="1165.7" y2="1472.6" stroke="#050505" stroke-width="1.8" stroke-linecap="butt"/>
<line x1="922.2" y1="1472.6" x2="922.2" y2="1504.1" stroke="#050505" stroke-width="1.8" stroke-linecap="butt"/>
<text x="663.1" y="1478.8" font-family="'Liberation Sans', sans-serif" font-size="19.6" text-anchor="end" stroke="#050505" stroke-width="0.2" fill="#050505">0</text>
<line x1="669.7" y1="1362.9" x2="678.7" y2="1362.9" stroke="#050505" stroke-width="1.7" stroke-linecap="butt"/>
<text x="663.1" y="1369.1" font-family="'Liberation Sans', sans-serif" font-size="19.6" text-anchor="end" stroke="#050505" stroke-width="0.2" fill="#050505">20</text>
<line x1="669.7" y1="1253.2" x2="678.7" y2="1253.2" stroke="#050505" stroke-width="1.7" stroke-linecap="butt"/>
<text x="663.1" y="1259.4" font-family="'Liberation Sans', sans-serif" font-size="19.6" text-anchor="end" stroke="#050505" stroke-width="0.2" fill="#050505">40</text>
<line x1="669.7" y1="1143.5" x2="678.7" y2="1143.5" stroke="#050505" stroke-width="1.7" stroke-linecap="butt"/>
<text x="663.1" y="1149.7" font-family="'Liberation Sans', sans-serif" font-size="19.6" text-anchor="end" stroke="#050505" stroke-width="0.2" fill="#050505">60</text>
<line x1="669.7" y1="1033.8" x2="678.7" y2="1033.8" stroke="#050505" stroke-width="1.7" stroke-linecap="butt"/>
<text x="663.1" y="1040" font-family="'Liberation Sans', sans-serif" font-size="19.6" text-anchor="end" stroke="#050505" stroke-width="0.2" fill="#050505">80</text>
<line x1="669.7" y1="924.1" x2="678.7" y2="924.1" stroke="#050505" stroke-width="1.7" stroke-linecap="butt"/>
<text x="663.1" y="930.3" font-family="'Liberation Sans', sans-serif" font-size="19.6" text-anchor="end" stroke="#050505" stroke-width="0.2" fill="#050505">100</text>
<text transform="translate(800.45 1494.85) scale(1.025 1)" font-family="'Liberation Sans', sans-serif" font-size="19.9" text-anchor="middle" stroke="#050505" stroke-width="0.2" fill="#050505">Single Task</text>
<text transform="translate(1043.95 1494.85) scale(1.025 1)" font-family="'Liberation Sans', sans-serif" font-size="19.9" text-anchor="middle" stroke="#050505" stroke-width="0.2" fill="#050505">Dual Task</text>
<text transform="translate(620 1146.9) rotate(-90) scale(1.045 1)" font-family="'Liberation Sans', sans-serif" font-size="23.4" text-anchor="middle" stroke="#050505" stroke-width="0.25" fill="#050505">Mental Workload</text>
<line x1="757.6" y1="1417.4" x2="757.6" y2="1445.2" stroke="#050505" stroke-width="2.2" stroke-linecap="butt"/>
<line x1="741" y1="1417.4" x2="774.2" y2="1417.4" stroke="#050505" stroke-width="2.4" stroke-linecap="round"/>
<rect x="723.4" y="1445.2" width="68.4" height="27.4" fill="#e4e4e4" stroke="#050505" stroke-width="1.8"/>
<rect x="724.8" y="1446.6" width="65.6" height="24.6" fill="none" stroke="#ffffff" stroke-opacity="0.75" stroke-width="1"/>
<rect x="755.4" y="1458.2" width="4.4" height="4.4" fill="#ffffff" stroke="#050505" stroke-width="2.5"/>
<line x1="843" y1="1308" x2="843" y2="1363.2" stroke="#050505" stroke-width="2.2" stroke-linecap="butt"/>
<line x1="826.4" y1="1308" x2="859.6" y2="1308" stroke="#050505" stroke-width="2.4" stroke-linecap="round"/>
<line x1="843" y1="1417.7" x2="843" y2="1445.2" stroke="#050505" stroke-width="2.2" stroke-linecap="butt"/>
<line x1="826.4" y1="1445.2" x2="859.6" y2="1445.2" stroke="#050505" stroke-width="2.4" stroke-linecap="round"/>
<rect x="808.7" y="1363.2" width="68.6" height="54.5" fill="#5f5f5f" stroke="#050505" stroke-width="1.8"/>
<rect x="840.8" y="1377.3" width="4.4" height="4.4" fill="#b8b8b8" stroke="#050505" stroke-width="2.5"/>
<line x1="808.7" y1="1404.5" x2="877.3" y2="1404.5" stroke="#050505" stroke-width="2.2" stroke-linecap="butt"/>
<path d="M839 1198.3L843 1194.3L847 1198.3L843 1202.3Z" fill="#050505"/>
<path d="M839 1253.5L843 1249.5L847 1253.5L843 1257.5Z" fill="#050505"/>
<line x1="1001.4" y1="951.7" x2="1001.4" y2="1143.8" stroke="#050505" stroke-width="2.2" stroke-linecap="butt"/>
<line x1="984.8" y1="951.7" x2="1018" y2="951.7" stroke="#050505" stroke-width="2.4" stroke-linecap="round"/>
<line x1="1001.4" y1="1349" x2="1001.4" y2="1417.7" stroke="#050505" stroke-width="2.2" stroke-linecap="butt"/>
<line x1="984.8" y1="1417.7" x2="1018" y2="1417.7" stroke="#050505" stroke-width="2.4" stroke-linecap="round"/>
<rect x="967.2" y="1143.8" width="68.4" height="205.2" fill="#e4e4e4" stroke="#050505" stroke-width="1.8"/>
<rect x="968.6" y="1145.2" width="65.6" height="202.4" fill="none" stroke="#ffffff" stroke-opacity="0.75" stroke-width="1"/>
<path d="M968.2 1279.3H1034.6M968.2 1282.5H1034.6" fill="none" stroke="#ffffff" stroke-opacity="0.6" stroke-width="0.9"/>
<rect x="999.2" y="1245.9" width="4.4" height="4.4" fill="#ffffff" stroke="#050505" stroke-width="2.5"/>
<line x1="967.2" y1="1280.9" x2="1035.6" y2="1280.9" stroke="#050505" stroke-width="2.2" stroke-linecap="butt"/>
<line x1="1086.4" y1="924.2" x2="1086.4" y2="1061" stroke="#050505" stroke-width="2.2" stroke-linecap="butt"/>
<line x1="1069.8" y1="924.2" x2="1103" y2="924.2" stroke="#050505" stroke-width="2.4" stroke-linecap="round"/>
<line x1="1086.4" y1="1225.7" x2="1086.4" y2="1363.2" stroke="#050505" stroke-width="2.2" stroke-linecap="butt"/>
<line x1="1069.8" y1="1363.2" x2="1103" y2="1363.2" stroke="#050505" stroke-width="2.4" stroke-linecap="round"/>
<rect x="1052.2" y="1061" width="68.4" height="164.7" fill="#5f5f5f" stroke="#050505" stroke-width="1.8"/>
<rect x="1084.2" y="1141.6" width="4.4" height="4.4" fill="#b8b8b8" stroke="#050505" stroke-width="2.5"/>
<line x1="1052.2" y1="1143.8" x2="1120.6" y2="1143.8" stroke="#050505" stroke-width="2.2" stroke-linecap="butt"/>
<path d="M997 903.6V893.2Q997 891 999.2 891H1097.1Q1099.3 891 1099.3 893.2V903.6" fill="none" stroke="#050505" stroke-width="2.6"/>
<text transform="translate(1052.9 888.7) scale(0.9 1)" font-family="'DejaVu Sans', 'Liberation Sans', sans-serif" font-size="27.6" font-weight="bold" text-anchor="middle" fill="#050505">*</text>
<path d="M804 932.7V924.4Q804 922.2 806.2 922.2H1044.9Q1047.1 922.2 1047.1 924.4V932.7" fill="none" stroke="#050505" stroke-width="2.6"/>
<text transform="translate(929.6 919.1) scale(0.9 1)" font-family="'DejaVu Sans', 'Liberation Sans', sans-serif" font-size="27.6" font-weight="bold" text-anchor="middle" fill="#050505">*</text>
<path d="M745.8 1171.2V1161.2Q745.8 1159 748 1159H845.8Q848 1159 848 1161.2V1171.2" fill="none" stroke="#050505" stroke-width="2.6"/>
<text transform="translate(802 1154.6) scale(0.9 1)" font-family="'DejaVu Sans', 'Liberation Sans', sans-serif" font-size="27.6" font-weight="bold" text-anchor="middle" fill="#050505">*</text>
<rect x="685.8" y="827.7" width="215.1" height="46.4" fill="#ffffff" stroke="#050505" stroke-width="1.6"/>
<rect x="688.5" y="831.1" width="39" height="18.3" fill="#e4e4e4" stroke="#050505" stroke-width="1.8"/>
<rect x="690" y="832.6" width="36" height="15.3" fill="none" stroke="#ffffff" stroke-opacity="0.85" stroke-width="1.2"/>
<text x="732.1" y="846.7" font-family="'Liberation Sans', sans-serif" font-size="17.8" stroke="#050505" stroke-width="0.2" fill="#050505">unassisted</text>
<rect x="688.5" y="852.8" width="39" height="18.3" fill="#5f5f5f" stroke="#050505" stroke-width="1.8"/>
<text x="732.1" y="868.4" font-family="'Liberation Sans', sans-serif" font-size="17.8" stroke="#050505" stroke-width="0.2" fill="#050505">exoskeleton-assisted</text>
<text x="1095.2" y="847" font-family="'Liberation Sans', sans-serif" font-size="19.5" font-weight="bold" textLength="55.5" lengthAdjust="spacingAndGlyphs" fill="#050505">n = 20</text>
</g>
<g id="panelF">
<text transform="translate(1278.9 799) scale(0.7384 1)" font-family="'Liberation Sans', sans-serif" font-size="47.4" font-weight="bold" stroke="#050505" stroke-width="0.5" fill="#050505">F</text>
<rect x="1276.9" y="819.5" width="488.4" height="684.1" fill="#ffffff" stroke="#050505" stroke-width="1.8"/>
<line x1="1267.9" y1="1472.2" x2="1276.9" y2="1472.2" stroke="#050505" stroke-width="1.7" stroke-linecap="butt"/>
<line x1="1276.9" y1="1472.2" x2="1765.3" y2="1472.2" stroke="#050505" stroke-width="1.8" stroke-linecap="butt"/>
<line x1="1520.8" y1="1472.2" x2="1520.8" y2="1503.6" stroke="#050505" stroke-width="1.8" stroke-linecap="butt"/>
<text x="1261.3" y="1478.4" font-family="'Liberation Sans', sans-serif" font-size="19.6" text-anchor="end" stroke="#050505" stroke-width="0.2" fill="#050505">0</text>
<line x1="1267.9" y1="1362.45" x2="1276.9" y2="1362.45" stroke="#050505" stroke-width="1.7" stroke-linecap="butt"/>
<text x="1261.3" y="1368.65" font-family="'Liberation Sans', sans-serif" font-size="19.6" text-anchor="end" stroke="#050505" stroke-width="0.2" fill="#050505">20</text>
<line x1="1267.9" y1="1252.7" x2="1276.9" y2="1252.7" stroke="#050505" stroke-width="1.7" stroke-linecap="butt"/>
<text x="1261.3" y="1258.9" font-family="'Liberation Sans', sans-serif" font-size="19.6" text-anchor="end" stroke="#050505" stroke-width="0.2" fill="#050505">40</text>
<line x1="1267.9" y1="1142.95" x2="1276.9" y2="1142.95" stroke="#050505" stroke-width="1.7" stroke-linecap="butt"/>
<text x="1261.3" y="1149.15" font-family="'Liberation Sans', sans-serif" font-size="19.6" text-anchor="end" stroke="#050505" stroke-width="0.2" fill="#050505">60</text>
<line x1="1267.9" y1="1033.2" x2="1276.9" y2="1033.2" stroke="#050505" stroke-width="1.7" stroke-linecap="butt"/>
<text x="1261.3" y="1039.4" font-family="'Liberation Sans', sans-serif" font-size="19.6" text-anchor="end" stroke="#050505" stroke-width="0.2" fill="#050505">80</text>
<line x1="1267.9" y1="923.45" x2="1276.9" y2="923.45" stroke="#050505" stroke-width="1.7" stroke-linecap="butt"/>
<text x="1261.3" y="929.65" font-family="'Liberation Sans', sans-serif" font-size="19.6" text-anchor="end" stroke="#050505" stroke-width="0.2" fill="#050505">100</text>
<text transform="translate(1398.85 1494.4) scale(1.025 1)" font-family="'Liberation Sans', sans-serif" font-size="19.9" text-anchor="middle" stroke="#050505" stroke-width="0.2" fill="#050505">Single Task</text>
<text transform="translate(1643.05 1494.4) scale(1.025 1)" font-family="'Liberation Sans', sans-serif" font-size="19.9" text-anchor="middle" stroke="#050505" stroke-width="0.2" fill="#050505">Dual Task</text>
<text transform="translate(1218.3 1145.8) rotate(-90) scale(1.045 1)" font-family="'Liberation Sans', sans-serif" font-size="23.4" text-anchor="middle" stroke="#050505" stroke-width="0.25" fill="#050505">Physical Workload</text>
<line x1="1356.4" y1="1362.2" x2="1356.4" y2="1417" stroke="#050505" stroke-width="2.2" stroke-linecap="butt"/>
<line x1="1339.8" y1="1362.2" x2="1373" y2="1362.2" stroke="#050505" stroke-width="2.4" stroke-linecap="round"/>
<line x1="1356.4" y1="1455.8" x2="1356.4" y2="1472.2" stroke="#050505" stroke-width="2.2" stroke-linecap="butt"/>
<rect x="1322.3" y="1417" width="68.2" height="38.8" fill="#e4e4e4" stroke="#050505" stroke-width="1.8"/>
<rect x="1323.7" y="1418.4" width="65.4" height="36" fill="none" stroke="#ffffff" stroke-opacity="0.75" stroke-width="1"/>
<path d="M1323.3 1425.8H1389.5M1323.3 1429H1389.5" fill="none" stroke="#ffffff" stroke-opacity="0.6" stroke-width="0.9"/>
<rect x="1354.2" y="1426.9" width="4.4" height="4.4" fill="#ffffff" stroke="#050505" stroke-width="2.5"/>
<line x1="1322.3" y1="1427.4" x2="1390.5" y2="1427.4" stroke="#050505" stroke-width="2.2" stroke-linecap="butt"/>
<path d="M1352.4 1334.8L1356.4 1330.8L1360.4 1334.8L1356.4 1338.8Z" fill="#050505"/>
<line x1="1441.9" y1="1197.2" x2="1441.9" y2="1252.3" stroke="#050505" stroke-width="2.2" stroke-linecap="butt"/>
<line x1="1425.3" y1="1197.2" x2="1458.5" y2="1197.2" stroke="#050505" stroke-width="2.4" stroke-linecap="round"/>
<line x1="1441.9" y1="1401" x2="1441.9" y2="1449.8" stroke="#050505" stroke-width="2.2" stroke-linecap="butt"/>
<line x1="1425.3" y1="1449.8" x2="1458.5" y2="1449.8" stroke="#050505" stroke-width="2.4" stroke-linecap="round"/>
<rect x="1407.6" y="1252.3" width="68.6" height="148.7" fill="#5f5f5f" stroke="#050505" stroke-width="1.8"/>
<rect x="1439.7" y="1331.3" width="4.4" height="4.4" fill="#b8b8b8" stroke="#050505" stroke-width="2.5"/>
<line x1="1407.6" y1="1362.2" x2="1476.2" y2="1362.2" stroke="#050505" stroke-width="2.2" stroke-linecap="butt"/>
<line x1="1600.6" y1="1362.2" x2="1600.6" y2="1417" stroke="#050505" stroke-width="2.2" stroke-linecap="butt"/>
<line x1="1584" y1="1362.2" x2="1617.2" y2="1362.2" stroke="#050505" stroke-width="2.4" stroke-linecap="round"/>
<line x1="1600.6" y1="1458.1" x2="1600.6" y2="1472.2" stroke="#050505" stroke-width="2.2" stroke-linecap="butt"/>
<rect x="1566.3" y="1417" width="68.6" height="41.1" fill="#e4e4e4" stroke="#050505" stroke-width="1.8"/>
<rect x="1567.7" y="1418.4" width="65.8" height="38.3" fill="none" stroke="#ffffff" stroke-opacity="0.75" stroke-width="1"/>
<path d="M1567.3 1442.8H1633.9M1567.3 1446H1633.9" fill="none" stroke="#ffffff" stroke-opacity="0.6" stroke-width="0.9"/>
<rect x="1598.4" y="1430.9" width="4.4" height="4.4" fill="#ffffff" stroke="#050505" stroke-width="2.5"/>
<line x1="1566.3" y1="1444.4" x2="1634.9" y2="1444.4" stroke="#050505" stroke-width="2.2" stroke-linecap="butt"/>
<path d="M1596.6 1334.8L1600.6 1330.8L1604.6 1334.8L1600.6 1338.8Z" fill="#050505"/>
<line x1="1686.2" y1="1169.8" x2="1686.2" y2="1260.7" stroke="#050505" stroke-width="2.2" stroke-linecap="butt"/>
<line x1="1669.6" y1="1169.8" x2="1702.8" y2="1169.8" stroke="#050505" stroke-width="2.4" stroke-linecap="round"/>
<line x1="1686.2" y1="1390" x2="1686.2" y2="1449.8" stroke="#050505" stroke-width="2.2" stroke-linecap="butt"/>
<line x1="1669.6" y1="1449.8" x2="1702.8" y2="1449.8" stroke="#050505" stroke-width="2.4" stroke-linecap="round"/>
<rect x="1651.9" y="1260.7" width="68.6" height="129.3" fill="#5f5f5f" stroke="#050505" stroke-width="1.8"/>
<rect x="1684" y="1327.6" width="4.4" height="4.4" fill="#b8b8b8" stroke="#050505" stroke-width="2.5"/>
<line x1="1651.9" y1="1362.2" x2="1720.5" y2="1362.2" stroke="#050505" stroke-width="2.2" stroke-linecap="butt"/>
<path d="M1347.7 1146V1134.7Q1347.7 1132.5 1349.9 1132.5H1447.4Q1449.6 1132.5 1449.6 1134.7V1146" fill="none" stroke="#050505" stroke-width="2.6"/>
<text transform="translate(1403.9 1129.4) scale(0.9 1)" font-family="'DejaVu Sans', 'Liberation Sans', sans-serif" font-size="27.6" font-weight="bold" text-anchor="middle" fill="#050505">*</text>
<path d="M1588.6 1146V1134.7Q1588.6 1132.5 1590.8 1132.5H1688.7Q1690.9 1132.5 1690.9 1134.7V1146" fill="none" stroke="#050505" stroke-width="2.6"/>
<text transform="translate(1645.8 1129.4) scale(0.9 1)" font-family="'DejaVu Sans', 'Liberation Sans', sans-serif" font-size="27.6" font-weight="bold" text-anchor="middle" fill="#050505">*</text>
<rect x="1286.6" y="833.2" width="215.8" height="46.1" fill="#ffffff" stroke="#050505" stroke-width="1.6"/>
<rect x="1289.6" y="836.5" width="38.4" height="18.3" fill="#e4e4e4" stroke="#050505" stroke-width="1.8"/>
<rect x="1291.1" y="838" width="35.4" height="15.3" fill="none" stroke="#ffffff" stroke-opacity="0.85" stroke-width="1.2"/>
<text x="1332.9" y="851.9" font-family="'Liberation Sans', sans-serif" font-size="17.8" stroke="#050505" stroke-width="0.2" fill="#050505">unassisted</text>
<rect x="1289.6" y="858.2" width="38.4" height="18.3" fill="#5f5f5f" stroke="#050505" stroke-width="1.8"/>
<text x="1332.9" y="873.6" font-family="'Liberation Sans', sans-serif" font-size="17.8" stroke="#050505" stroke-width="0.2" fill="#050505">exoskeleton-assisted</text>
<text x="1695.5" y="846.5" font-family="'Liberation Sans', sans-serif" font-size="19.5" font-weight="bold" textLength="55.5" lengthAdjust="spacingAndGlyphs" fill="#050505">n = 20</text>
</g>
</svg>
</body></html>
